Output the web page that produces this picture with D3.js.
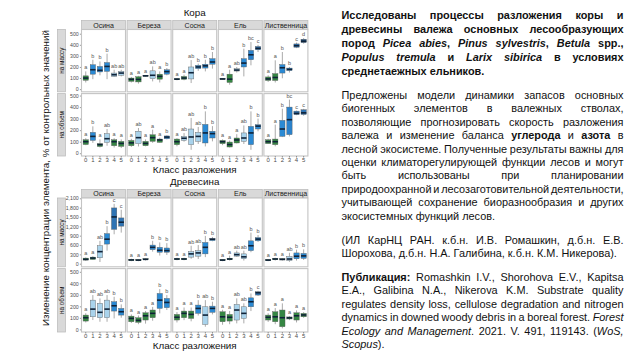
<!DOCTYPE html>
<html><head><meta charset="utf-8">
<script src="https://cdn.jsdelivr.net/npm/d3@7"></script>
<style>body{margin:0;background:#fff}svg{display:block}</style>
</head><body>
<svg id="c" width="640" height="360"></svg>
<script>
// ---------- DATA ----------
const species = ["Осина","Береза","Сосна","Ель","Лиственница"];
const classes = ["0","1","2","3","4","5"];
const rowLabels = ["на массу","на объем"];
const barkTicks = [0,100,200,300,400,500];
const woodMassTicks = [0,300,600,900,1200,1500,1800,2100];
// each box: [lower whisker, Q1, median, Q3, upper whisker, letter]
const barkMass = [
 [[60,80,100,120,160,"a"],[90,135,175,220,265,"b"],[125,155,170,205,250,"b"],[90,160,205,240,320,"b"],[110,115,130,145,175,"ab"],[115,125,145,160,175,"ab"]],
 [[60,70,88,100,110,"a"],[50,65,88,112,120,"a"],[112,117,120,123,127,"a"],[70,95,125,165,205,"ab"],[60,90,115,135,160,"a"],[125,135,158,175,190,"b"]],
 [[80,85,90,95,100,"a"],[80,88,100,115,130,"a"],[55,92,148,200,262,"ab"],[165,185,200,215,230,"b"],[160,190,210,225,265,"b"],[185,225,245,275,335,"b"]],
 [[85,88,92,95,100,"a"],[40,60,90,135,175,"a"],[150,163,172,185,200,"ab"],[115,200,235,275,365,"b"],[215,265,310,350,425,"bc"],[335,355,368,385,400,"c"]],
 [[65,78,92,110,125,"a"],[60,78,105,140,260,"a"],[98,145,193,222,335,"b"],[150,168,178,190,200,"b"],[370,378,392,408,420,"c"],[410,420,432,450,460,"d"]]
];
const barkVol = [
 [[70,75,100,117,130,"a"],[90,111,146,181,233,"b"],[50,58,75,83,120,"a"],[65,94,126,170,210,"ab"],[50,65,100,117,130,"a"],[45,59,85,103,120,"a"]],
 [[55,65,90,111,125,"a"],[59,83,135,191,219,"ab"],[60,65,85,103,120,"a"],[90,103,135,160,204,"a"],[90,94,115,123,135,"a"],[120,125,140,150,155,"b"]],
 [[60,74,100,123,130,"a"],[100,111,130,146,175,"ab"],[30,74,141,210,306,"ab"],[80,103,146,181,228,"ab"],[59,89,176,250,363,"b"],[103,132,170,191,235,"b"]],
 [[70,83,100,111,120,"a"],[50,54,75,97,110,"a"],[85,89,115,132,165,"a"],[80,103,132,176,241,"ab"],[30,74,176,233,363,"b"],[190,210,235,248,300,"b"]],
 [[80,83,100,117,125,"a"],[60,74,100,123,248,"a"],[140,146,210,285,386,"b"],[146,161,291,400,465,"bc"],[330,336,345,365,370,"c"],[325,336,350,377,385,"c"]]
];
const woodMass = [
 [[90,116,140,179,200,"a"],[120,135,180,211,240,"a"],[53,189,387,576,734,"ab"],[419,630,787,967,1206,"b"],[945,1102,1502,1791,1921,"c"],[998,1206,1332,1470,1732,"c"]],
 [[80,100,120,140,160,"a"],[80,95,115,130,150,"a"],[100,125,140,160,180,"a"],[387,450,526,598,734,"b"],[261,368,430,526,683,"b"],[280,368,420,504,660,"b"]],
 [[110,130,150,170,190,"a"],[110,130,150,170,190,"a"],[157,211,315,387,576,"ab"],[150,242,346,419,598,"ab"],[211,315,526,683,891,"b"],[720,740,787,800,860,"b"]],
 [[80,100,115,135,150,"a"],[100,130,150,170,260,"a"],[220,242,290,346,420,"ab"],[100,157,220,315,419,"ab"],[368,419,576,734,998,"b"],[700,734,790,840,920,"b"]],
 [[80,100,115,135,150,"a"],[100,130,150,170,190,"a"],[100,120,140,160,180,"a"],[60,104,150,230,350,"ab"],[100,157,240,346,450,"b"],[120,170,250,330,460,"b"]]
];
const woodVol = [
 [[60,72,101,124,140,"a"],[81,109,176,254,298,"ab"],[66,101,148,226,269,"ab"],[66,101,176,254,298,"ab"],[95,159,205,240,283,"b"],[101,124,153,182,217,"b"]],
 [[55,66,95,115,130,"a"],[45,61,78,101,120,"a"],[50,81,118,144,160,"a"],[75,101,139,168,195,"a"],[139,182,254,312,350,"b"],[168,188,234,269,298,"b"]],
 [[60,81,105,130,150,"a"],[80,101,139,159,190,"a"],[70,95,130,159,190,"a"],[120,139,182,211,254,"b"],[23,43,124,196,254,"ab"],[130,148,182,202,240,"b"]],
 [[40,66,109,153,170,"a"],[45,72,105,130,160,"a"],[52,81,168,217,269,"ab"],[52,95,139,196,226,"ab"],[159,196,240,274,312,"b"],[290,298,318,327,335,"c"]],
 [[65,81,105,124,140,"a"],[45,66,109,153,185,"a"],[9,23,101,168,226,"a"],[80,90,100,108,115,"a"],[60,81,118,144,165,"a"],[100,109,125,139,150,"a"]]
];
const groupTitles = ["Кора","Древесина"];
const xTitle = "Класс разложения";
const yTitle = "Изменение концентрации элемента, % от контрольных значений";

const para1 = [
 "Исследованы процессы разложения коры и",
 "древесины валежа основных лесообразующих",
 "пород _Picea abies_, _Pinus sylvestris_, _Betula_ spp.,",
 "_Populus tremula_ и _Larix sibirica_ в условиях",
 "среднетаежных ельников."
];
const para2 = [
 "Предложены модели динамики запасов основных",
 "биогенных элементов в валежных стволах,",
 "позволяющие прогнозировать скорость разложения",
 "валежа и изменение баланса ^углерода^ и ^азота^ в",
 "лесной экосистеме. Полученные результаты важны для",
 "оценки климаторегулирующей функции лесов и могут",
 "быть использованы при планировании",
 "природоохранной и лесозаготовительной деятельности,",
 "учитывающей сохранение биоразнообразия и других",
 "экосистемных функций лесов."
];
const para3 = [
 "(ИЛ КарНЦ РАН. к.б.н. И.В. Ромашкин, д.б.н. Е.В.",
 "Шорохова, д.б.н. Н.А. Галибина, к.б.н. К.М. Никерова)."
];
const para4 = [
 "^Публикация:^ Romashkin I.V., Shorohova E.V., Kapitsa",
 "E.A., Galibina N.A., Nikerova K.M. Substrate quality",
 "regulates density loss, cellulose degradation and nitrogen",
 "dynamics in downed woody debris in a boreal forest. _Forest_",
 "_Ecology and Management_. 2021. V. 491, 119143. (_WoS,_",
 "_Scopus_)."
];

// ---------- DRAWING ----------
const svg = d3.select("#c");
const FONT = "Liberation Sans, Arial, sans-serif";
const fillScale = d3.scaleOrdinal()
  .domain(["a","ab","b","bc","c","d"])
  .range(["#358643","#a9d3ec","#2b8ad4","#2a82cc","#2f74b4","#1f5386"]);

const px0 = 81.5, pStep = 45.6, pW = 44;
const rows = [
  {data: barkMass, top: 29.5, bottom: 91.8, domain: [-24, 538], ticks: barkTicks, label: rowLabels[0]},
  {data: barkVol, top: 93.6, bottom: 156, domain: [-24, 517], ticks: barkTicks, label: rowLabels[1], xaxis: true},
  {data: woodMass, top: 198, bottom: 266.8, domain: [-100, 2110], ticks: woodMassTicks, label: rowLabels[0]},
  {data: woodVol, top: 268.6, bottom: 332, domain: [-23, 528], ticks: barkTicks, label: rowLabels[1], xaxis: true}
];
const stripRows = [{top: 20.5, bottom: 29.5}, {top: 189.5, bottom: 198}];

// strips on top
stripRows.forEach(s => {
  species.forEach((sp, i) => {
    const x0 = px0 + i * pStep;
    svg.append("rect").attr("x", x0).attr("y", s.top).attr("width", pW).attr("height", s.bottom - s.top)
      .attr("fill", "#d9d9d9").attr("stroke", "#bdbdbd").attr("stroke-width", 0.8);
    svg.append("text").attr("x", x0 + pW / 2).attr("y", (s.top + s.bottom) / 2 + 2.5)
      .attr("text-anchor", "middle").attr("font-family", FONT).attr("font-size", 7)
      .attr("fill", "#1a1a1a").text(sp);
  });
});

rows.forEach(r => {
  const y = d3.scaleLinear().domain(r.domain).range([r.bottom, r.top]);
  // row strip on left
  svg.append("rect").attr("x", 57.5).attr("y", r.top).attr("width", 8).attr("height", r.bottom - r.top)
    .attr("fill", "#d9d9d9").attr("stroke", "#bdbdbd").attr("stroke-width", 0.8);
  svg.append("text").attr("transform", `translate(${61.5 + 2.2},${(r.top + r.bottom) / 2}) rotate(-90)`)
    .attr("text-anchor", "middle").attr("font-family", FONT).attr("font-size", 6.3)
    .attr("fill", "#1a1a1a").text(r.label);
  // y axis
  const ya = svg.append("g").attr("transform", `translate(${px0},0)`)
    .call(d3.axisLeft(y).tickValues(r.ticks).tickSize(1.6).tickPadding(1.2));
  ya.select(".domain").remove();
  ya.selectAll("line").attr("stroke", "#555").attr("stroke-width", 0.6);
  ya.selectAll("text").attr("font-family", FONT).attr("font-size", 5.2).attr("fill", "#4d4d4d");

  species.forEach((sp, i) => {
    const x0 = px0 + i * pStep;
    const x = d3.scaleBand().domain(classes).range([x0, x0 + pW]).paddingInner(0).paddingOuter(0.1);
    const bw = x.bandwidth() * 0.75;
    const g = svg.append("g");
    g.append("rect").attr("x", x0).attr("y", r.top).attr("width", pW).attr("height", r.bottom - r.top)
      .attr("fill", "#fff").attr("stroke", "#c4c4c4").attr("stroke-width", 1.1);
    r.data[i].forEach((b, k) => {
      const cx = x(classes[k]) + x.bandwidth() / 2;
      const [lo, q1, md, q3, hi, let_] = b;
      g.append("line").attr("x1", cx).attr("x2", cx).attr("y1", y(lo)).attr("y2", y(q1))
        .attr("stroke", "#707070").attr("stroke-width", 0.6);
      g.append("line").attr("x1", cx).attr("x2", cx).attr("y1", y(q3)).attr("y2", y(hi))
        .attr("stroke", "#707070").attr("stroke-width", 0.6);
      g.append("rect").attr("x", cx - bw / 2).attr("y", y(q3)).attr("width", bw)
        .attr("height", Math.max(0.5, y(q1) - y(q3)))
        .attr("fill", fillScale(let_)).attr("stroke", "#5a5a5a").attr("stroke-width", 0.4);
      g.append("line").attr("x1", cx - bw / 2).attr("x2", cx + bw / 2).attr("y1", y(md)).attr("y2", y(md))
        .attr("stroke", "#0f2238").attr("stroke-width", 1.6);
      g.append("text").attr("x", cx).attr("y", y(hi) - 2).attr("text-anchor", "middle")
        .attr("font-family", FONT).attr("font-size", 5.5).attr("fill", "#555").text(let_);
    });
    if (r.xaxis) {
      const xa = svg.append("g").attr("transform", `translate(0,${r.bottom})`)
        .call(d3.axisBottom(x).tickSize(1.6).tickPadding(0.6));
      xa.select(".domain").remove();
      xa.selectAll("line").attr("stroke", "#555").attr("stroke-width", 0.6);
      xa.selectAll("text").attr("font-family", FONT).attr("font-size", 6).attr("fill", "#4d4d4d");
    }
  });
});

const cxAll = px0 + (4 * pStep + pW) / 2;
const TF = 9.8;
svg.append("text").attr("x", cxAll).attr("y", 15.5).attr("text-anchor", "middle")
  .attr("font-family", FONT).attr("font-size", TF).attr("fill", "#111").text(groupTitles[0]);
svg.append("text").attr("x", cxAll).attr("y", 185).attr("text-anchor", "middle")
  .attr("font-family", FONT).attr("font-size", TF).attr("fill", "#111").text(groupTitles[1]);
[173.2, 348.8].forEach(yy => svg.append("text").attr("x", cxAll).attr("y", yy).attr("text-anchor", "middle")
  .attr("font-family", FONT).attr("font-size", TF).attr("fill", "#111").text(xTitle));
svg.append("text").attr("transform", "translate(49,178) rotate(-90)").attr("text-anchor", "middle")
  .attr("font-family", FONT).attr("font-size", TF).attr("fill", "#111").text(yTitle);

// ---------- TEXT BLOCK ----------
const TX0 = 341.5, TX1 = 623.5, FS = 10.9;
function drawPara(lines, y0, lh, baseBold) {
  let italic = false, bold = baseBold;
  lines.forEach((ln, li) => {
    const yy = y0 + li * lh;
    const last = li === lines.length - 1;
    const items = ln.split(" ").map(w => {
      const t = svg.append("text").attr("y", yy).attr("font-family", FONT).attr("font-size", FS).attr("fill", "#111");
      let seg = "";
      const flush = () => {
        if (seg) t.append("tspan").attr("font-weight", bold ? "bold" : "normal")
          .attr("font-style", italic ? "italic" : "normal").text(seg);
        seg = "";
      };
      for (const ch of w) {
        if (ch === "_") { flush(); italic = !italic; }
        else if (ch === "^") { flush(); bold = !bold; }
        else seg += ch;
      }
      flush();
      return {t, w: t.node().getComputedTextLength()};
    });
    const total = d3.sum(items, d => d.w);
    const gap = (last || items.length < 2) ? FS * 0.278 : (TX1 - TX0 - total) / (items.length - 1);
    let x = TX0;
    items.forEach(it => { it.t.attr("x", x); x += it.w + gap; });
  });
}
drawPara(para1, 19, 13.9, true);
drawPara(para2, 99, 13.4, false);
drawPara(para3, 244, 13.4, false);
drawPara(para4, 281, 13.4, false);
</script>
</body></html>
